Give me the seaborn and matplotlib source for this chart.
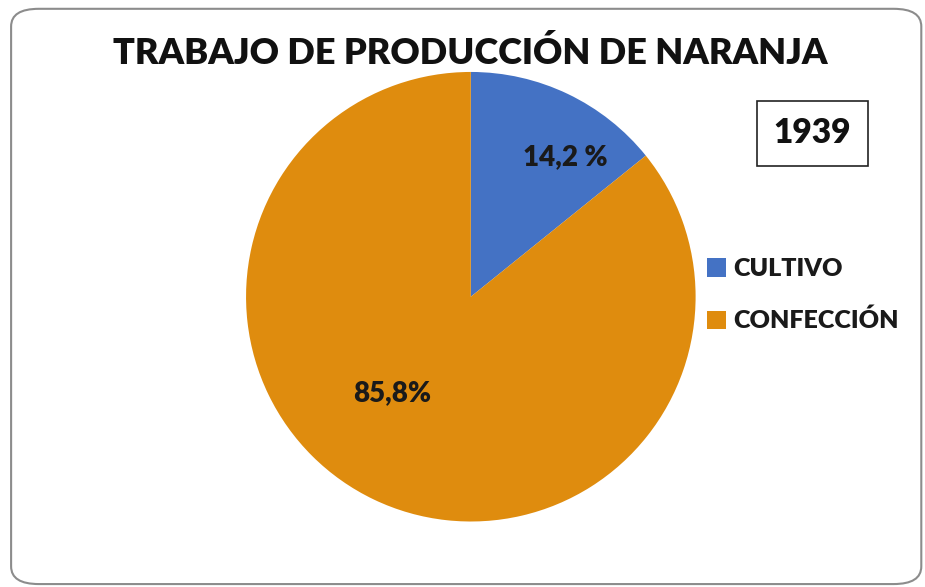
import matplotlib
matplotlib.use('Agg')
import matplotlib.pyplot as plt
from matplotlib.patches import FancyBboxPatch, Patch
import seaborn as sns

categorias = ['CULTIVO', 'CONFECCIÓN']
porcentajes = [14.2, 85.8]
etiquetas = ['14,2 %', '85,8%']
colores = ['#4472C4', '#DF8C0E']
titulo = 'TRABAJO DE PRODUCCIÓN DE NARANJA'
anio = '1939'

sns.set_theme(style='white')
plt.rcParams['font.family'] = ['Lato', 'DejaVu Sans']

fig = plt.figure(figsize=(9.25, 5.87), dpi=100)
fig.patch.set_facecolor('white')

# marco redondeado
marco = FancyBboxPatch((0.012, 0.005), 0.984, 0.98, boxstyle='round,pad=0,rounding_size=0.03',
                       transform=fig.transFigure, fill=False, edgecolor='#8c8c8c', linewidth=1.5)
fig.patches.append(marco)

ax = fig.add_axes([0.266, 0.111, 0.486, 0.767])
wedges, textos = ax.pie(porcentajes, colors=colores, startangle=90, counterclock=False,
                        wedgeprops={'linewidth': 0})
ax.set_xlim(-1, 1)
ax.set_ylim(-1, 1)
ax.set_aspect('equal')
ax.axis('off')

# etiquetas de datos
pos = [(0.42, 0.62), (-0.35, -0.43)]
for (x, y), t in zip(pos, etiquetas):
    ax.text(x, y, t, ha='center', va='center', fontsize=20, fontweight='heavy', color='#1a1a1a')

fig.text(0.508, 0.91, titulo, ha='center', va='center', fontsize=26, fontweight='heavy', color='#111111')

fig.text(0.878, 0.773, anio, ha='center', va='center', fontsize=24, fontweight='heavy', color='#111111',
         bbox=dict(boxstyle='square,pad=0.5', facecolor='white', edgecolor='#222222', linewidth=1.2))

handles = [Patch(facecolor=c, edgecolor='none') for c in colores]
fig.legend(handles, categorias, loc='center left', bbox_to_anchor=(0.74, 0.497), frameon=False,
           prop={'weight': 'heavy', 'size': 18}, handlelength=0.75, handleheight=0.75,
           handletextpad=0.3, labelspacing=1.15, labelcolor='#1a1a1a')

fig.savefig('out.png', dpi=100, facecolor='white')
